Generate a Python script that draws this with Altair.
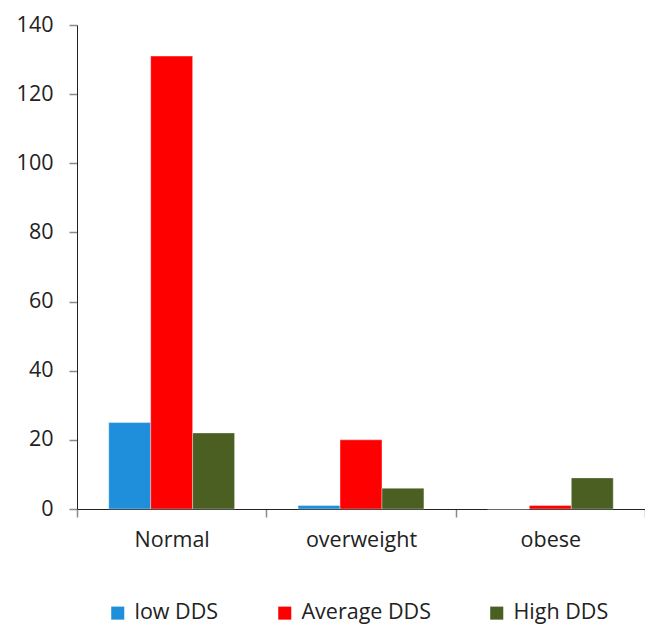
import altair as alt
import pandas as pd

categories = ["Normal", "overweight", "obese"]
series = ["low DDS", "Average DDS", "High DDS"]
low_dds = [25, 1, 0]
average_dds = [131, 20, 1]
high_dds = [22, 6, 9]
colors = ["#1F8FDB", "#FF0000", "#4A5F21"]

rows = []
for s, vals in zip(series, [low_dds, average_dds, high_dds]):
    for c, v in zip(categories, vals):
        rows.append({"category": c, "series": s, "value": v})
df = pd.DataFrame(rows)

FONT = "Open Sans"
FS = 21.5

chart = alt.Chart(df).mark_bar(stroke="white", strokeWidth=0.6, strokeOpacity=0.6).encode(
    x=alt.X("category:N", sort=categories, title=None,
            scale=alt.Scale(paddingInner=0, paddingOuter=0),
            axis=alt.Axis(labelAngle=0, tickBand="extent", tickSize=8, tickColor="#8a8a8a",
                          domainColor="#222222", labelFontSize=FS, labelColor="#222222",
                          labelFont=FONT, labelPadding=12, grid=False, tickWidth=1.5)),
    xOffset=alt.XOffset("series:N", sort=series,
                        scale=alt.Scale(paddingInner=0, paddingOuter=0.757)),
    y=alt.Y("value:Q", title=None,
            scale=alt.Scale(domain=[0, 140], nice=False),
            axis=alt.Axis(values=list(range(0, 141, 20)), tickSize=8, tickColor="#8a8a8a",
                          domainColor="#222222", labelFontSize=FS, labelColor="#222222",
                          labelFont=FONT, labelPadding=16, grid=False, tickWidth=1.5)),
    color=alt.Color("series:N", sort=series,
                    scale=alt.Scale(domain=series, range=colors),
                    legend=alt.Legend(title=None, orient="none", direction="horizontal",
                                      legendX=30, legendY=577, symbolType="square",
                                      symbolSize=170, symbolStrokeWidth=0, labelFontSize=FS,
                                      labelFont=FONT, labelColor="#222222", columnPadding=55,
                                      labelOffset=6)),
).properties(
    width=568, height=484,
    autosize=alt.AutoSizeParams(type="none"),
    padding={"left": 69, "top": 17, "right": 0, "bottom": 118},
).configure_view(stroke=None)

chart.save("out.html", embed_options={"renderer": "svg", "actions": False})
